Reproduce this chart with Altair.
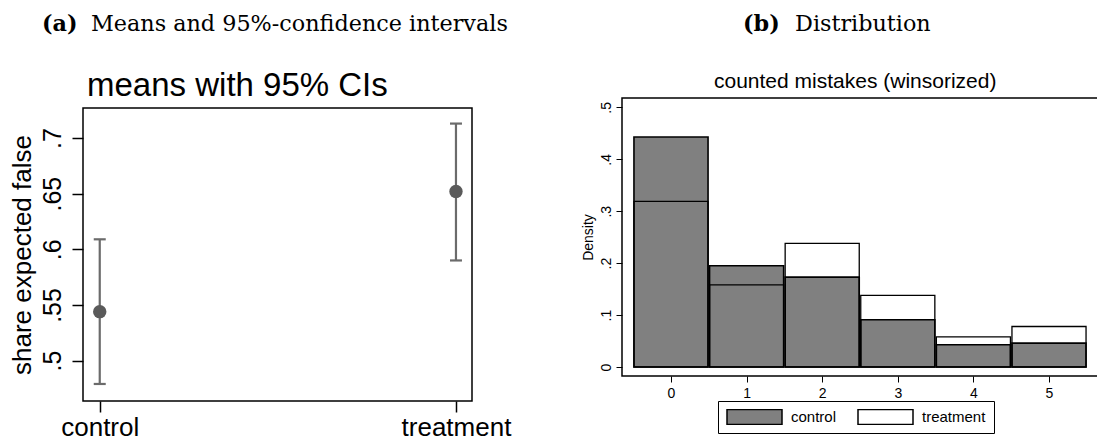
import altair as alt
import pandas as pd

# ---------------- data ----------------
groups = ["control", "treatment"]
group_pos = [0, 1]
means = [0.544, 0.652]
ci_low = [0.479, 0.590]
ci_high = [0.609, 0.713]

mistakes = [0, 1, 2, 3, 4, 5]
density_control = [0.443, 0.195, 0.173, 0.091, 0.043, 0.046]
density_treatment = [0.319, 0.158, 0.238, 0.138, 0.058, 0.078]

left_ticks = [0.5, 0.55, 0.6, 0.65, 0.7]
right_ticks = [0, 0.1, 0.2, 0.3, 0.4, 0.5]

caption_a = ["(a)", "Means and 95%-confidence intervals"]
caption_b = ["(b)", "Distribution"]
title_left = "means with 95% CIs"
title_right = "counted mistakes (winsorized)"
ylab_left = "share expected false"
ylab_right = "Density"

# ---------------- layout / style ----------------
W, H = 1097, 441
SANS = "Liberation Sans"
SERIF = "DejaVu Serif"
LX0, LX1, LY0, LY1 = 83, 472, 108, 401      # left plot region (px)
RX0, RX1, RY0, RY1 = 622, 1112, 98, 376     # right plot region (px)

means_df = pd.DataFrame({"group": groups, "pos": group_pos, "mean": means,
                         "lo": ci_low, "hi": ci_high})
rows = []
for m, c, t in zip(mistakes, density_control, density_treatment):
    rows.append({"mistakes": m, "group": groups[0], "density": c})
    rows.append({"mistakes": m, "group": groups[1], "density": t})
hist_df = pd.DataFrame(rows)
one = pd.DataFrame({"k": [0]})

# ---------------- left panel ----------------
lx = alt.Scale(domain=[-0.047, 1.045], range=[LX0, LX1], zero=False, nice=False)
ly = alt.Scale(domain=[0.4637, 0.727], range=[LY1, LY0], zero=False, nice=False)

ax_lx = alt.Axis(orient="bottom", offset=LY1 - H, values=group_pos,
                 labelExpr=f"['{groups[0]}','{groups[1]}'][datum.value]",
                 title=None, grid=False, domain=False, tickSize=11, tickWidth=1.5,
                 tickColor="black", labelFont=SANS, labelFontSize=26,
                 labelColor="black", labelPadding=2, labelAlign="center")
ax_ly = alt.Axis(orient="left", offset=-LX0, values=left_ticks,
                 labelExpr="replace(format(datum.value, '.2~f'), '0.', '.')",
                 labelAngle=270, labelAlign="center", labelBaseline="alphabetic",
                 labelPadding=12, tickSize=11, tickWidth=1.5, tickColor="black",
                 labelFont=SANS, labelFontSize=25, labelColor="black",
                 title=ylab_left, titleFont=SANS, titleFontSize=26,
                 titleFontWeight="normal", titleColor="black", titlePadding=5,
                 grid=False, domain=False)

lbase = alt.Chart(means_df)
frame_left = alt.Chart(one).mark_rect(fillOpacity=0, stroke="black", strokeWidth=1.5).encode(
    x=alt.value(LX0), x2=alt.value(LX1), y=alt.value(LY0), y2=alt.value(LY1))
ci_rule = lbase.mark_rule(color="#6b6b6b", strokeWidth=2.2).encode(
    x=alt.X("pos:Q", scale=lx, axis=ax_lx),
    y=alt.Y("lo:Q", scale=ly, axis=ax_ly), y2="hi:Q")
cap_lo = lbase.mark_tick(orient="horizontal", size=12, thickness=2.2, color="#6b6b6b", opacity=1).encode(
    x=alt.X("pos:Q", scale=lx, axis=ax_lx), y=alt.Y("lo:Q", scale=ly, axis=ax_ly))
cap_hi = lbase.mark_tick(orient="horizontal", size=12, thickness=2.2, color="#6b6b6b", opacity=1).encode(
    x=alt.X("pos:Q", scale=lx, axis=ax_lx), y=alt.Y("hi:Q", scale=ly, axis=ax_ly))
pts = lbase.mark_circle(size=180, color="#5a5a5a", opacity=1).encode(
    x=alt.X("pos:Q", scale=lx, axis=ax_lx), y=alt.Y("mean:Q", scale=ly, axis=ax_ly))
left = alt.layer(ci_rule, cap_lo, cap_hi, pts)

# ---------------- right panel ----------------
px_per_unit = 75.6
zero_px = 671
rx = alt.Scale(domain=[(RX0 - zero_px) / px_per_unit, (RX1 - zero_px) / px_per_unit],
               range=[RX0, RX1], zero=False, nice=False)
ry = alt.Scale(domain=[-0.0173, 0.518], range=[RY1, RY0], zero=False, nice=False)

ax_rx = alt.Axis(orient="bottom", offset=RY1 - H, values=mistakes, format="d",
                 title=None, grid=False, domain=False, tickSize=6, tickWidth=1,
                 tickColor="black", labelFont=SANS, labelFontSize=14,
                 labelColor="black", labelPadding=4)
ax_ry = alt.Axis(orient="left", offset=-RX0, values=right_ticks,
                 labelExpr="datum.value == 0 ? '0' : replace(format(datum.value, '.1f'), '0.', '.')",
                 labelAngle=270, labelAlign="center", labelBaseline="alphabetic",
                 labelPadding=6, tickSize=6, tickWidth=1, tickColor="black",
                 labelFont=SANS, labelFontSize=14, labelColor="black",
                 title=ylab_right, titleFont=SANS, titleFontSize=14,
                 titleFontWeight="normal", titleColor="black", titlePadding=4,
                 grid=False, domain=False)

legend = alt.Legend(orient="none", legendX=718, legendY=401, direction="horizontal",
                    title=None, symbolType="M-1,-0.27L1,-0.27L1,0.27L-1,0.27Z",
                    symbolSize=3025, clipHeight=16, symbolStrokeColor="black",
                    symbolStrokeWidth=1.5, symbolOpacity=1, labelFont=SANS,
                    labelFontSize=15, labelColor="black", labelOffset=8,
                    columnPadding=20, padding=8, strokeColor="black")

rbase = alt.Chart(hist_df).transform_calculate(
    x0="datum.mistakes - 0.49", x1="datum.mistakes + 0.49")
bars_c = rbase.transform_filter(alt.datum.group == groups[0]).mark_rect(
    stroke="black", strokeWidth=1.6).encode(
    x=alt.X("x0:Q", scale=rx, axis=ax_rx), x2="x1:Q",
    y=alt.Y("density:Q", scale=ry, axis=ax_ry), y2=alt.datum(0),
    fill=alt.Fill("group:N", scale=alt.Scale(domain=groups, range=["#808080", "#ffffff"]),
                  legend=legend))
bars_t = rbase.transform_filter(alt.datum.group == groups[1]).mark_rect(
    fillOpacity=0, stroke="black", strokeWidth=1.3).encode(
    x=alt.X("x0:Q", scale=rx, axis=ax_rx), x2="x1:Q",
    y=alt.Y("density:Q", scale=ry, axis=ax_ry), y2=alt.datum(0))
frame_right = alt.Chart(one).mark_rect(fillOpacity=0, stroke="black", strokeWidth=1.5).encode(
    x=alt.value(RX0), x2=alt.value(RX1), y=alt.value(RY0), y2=alt.value(RY1))
right = alt.layer(bars_c, bars_t)

# ---------------- texts ----------------
def txt(s, x, y, size, font, weight="normal", align="left"):
    return alt.Chart(one).mark_text(font=font, fontSize=size, fontWeight=weight,
                                    align=align, baseline="alphabetic", color="black").encode(
        x=alt.value(x), y=alt.value(y), text=alt.value(s))

texts = [
    txt(caption_a[0], 42, 31, 22.3, SERIF, "bold"),
    txt(caption_a[1], 91, 31, 22.3, SERIF),
    txt(caption_b[0], 743, 31, 22.3, SERIF, "bold"),
    txt(caption_b[1], 795, 31, 22.3, SERIF),
    txt(title_left, 87, 96, 33, SANS),
    txt(title_right, 714, 88, 21, SANS),
]

chart = alt.layer(frame_left, frame_right, left, right, *texts).resolve_scale(
    x="independent", y="independent").properties(
    width=W, height=H, padding=0, autosize=alt.AutoSizeParams(type="none")
).configure_view(strokeWidth=0)

chart.save("out.html", embed_options={"renderer": "svg", "actions": False})
